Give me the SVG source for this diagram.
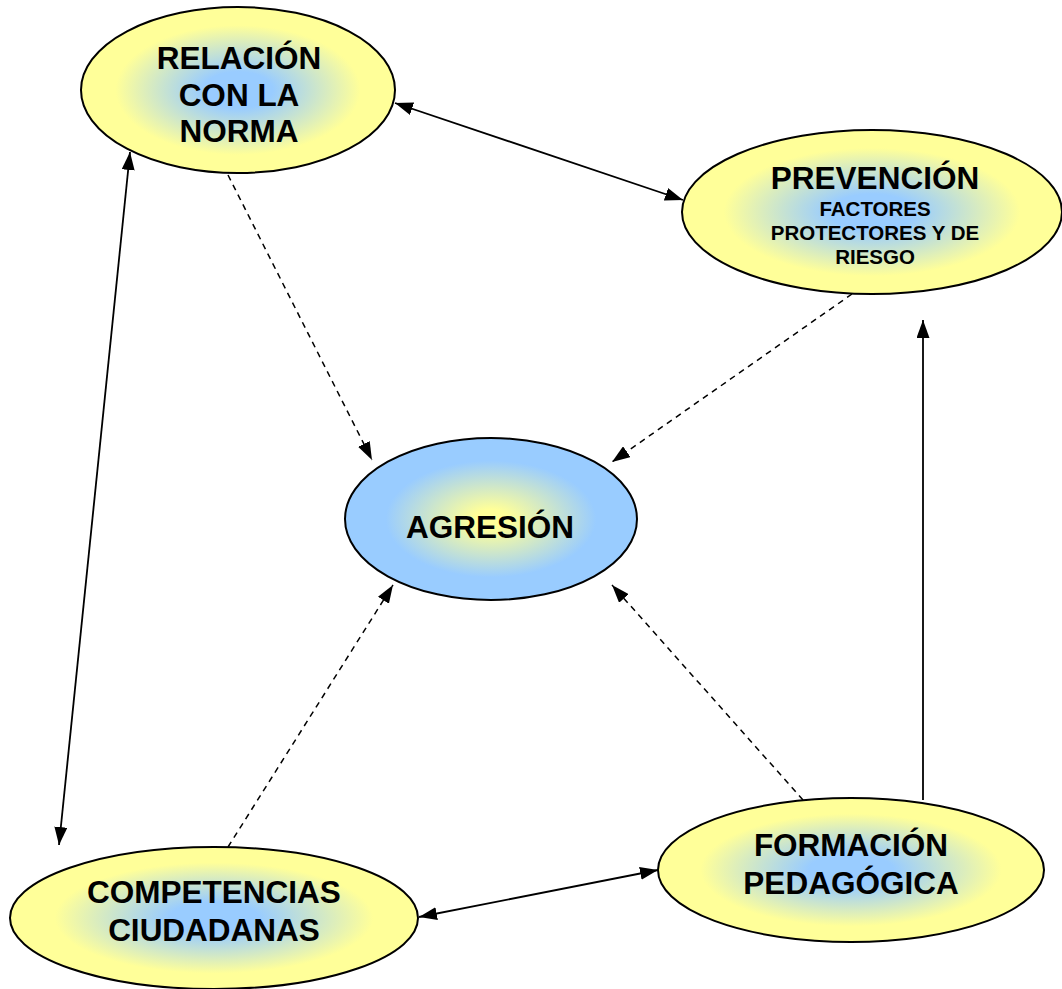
<svg xmlns="http://www.w3.org/2000/svg" width="1062" height="989" viewBox="0 0 1062 989">
<style>
.node ellipse{stroke:#000;stroke-width:2}
.t{font-family:"Liberation Sans",Arial,sans-serif;font-weight:bold;fill:#000;text-anchor:middle}
.big{font-size:31.5px}
.small{font-size:20.5px}
.c{fill:none;stroke:#000;stroke-width:1.8}
.d{stroke-width:1.5;stroke-dasharray:6 5}
</style>
<defs>
<radialGradient id="gy" cx="50%" cy="50%" r="50%">
<stop offset="0" stop-color="#99ccff"/>
<stop offset="0.22" stop-color="#99ccff"/>
<stop offset="0.78" stop-color="#ffff99"/>
<stop offset="1" stop-color="#ffff99"/>
</radialGradient>
<radialGradient id="gb" cx="50%" cy="50%" r="50%">
<stop offset="0" stop-color="#ffff99"/>
<stop offset="0.12" stop-color="#ffff99"/>
<stop offset="0.72" stop-color="#99ccff"/>
<stop offset="1" stop-color="#99ccff"/>
</radialGradient>
<marker id="ah" viewBox="0 0 18 13" refX="18" refY="6.5" markerWidth="18" markerHeight="13" markerUnits="userSpaceOnUse" orient="auto-start-reverse">
<path d="M0,0 L18,6.5 L0,13 Z" fill="#000"/>
</marker>
<clipPath id="pclip"><rect x="680" y="130" width="382" height="135"/></clipPath>
</defs>
<g id="connectors">
<line class="c" x1="395" y1="103" x2="683" y2="200" marker-start="url(#ah)" marker-end="url(#ah)"/>
<line class="c" x1="130" y1="152" x2="59" y2="845" marker-start="url(#ah)" marker-end="url(#ah)"/>
<line class="c" x1="419" y1="917" x2="658" y2="870" marker-start="url(#ah)" marker-end="url(#ah)"/>
<line class="c" x1="923" y1="800" x2="923" y2="320" marker-end="url(#ah)"/>
<line class="c d" x1="228" y1="175" x2="372" y2="460" marker-end="url(#ah)"/>
<line class="c d" x1="852" y1="294" x2="612" y2="462" marker-end="url(#ah)"/>
<line class="c d" x1="228" y1="847" x2="393" y2="585" marker-end="url(#ah)"/>
<line class="c d" x1="803" y1="800" x2="612" y2="585" marker-end="url(#ah)"/>
</g>
<g id="relacion" class="node">
<ellipse cx="238" cy="90" rx="157" ry="83" fill="url(#gy)"/>
<text class="t big" x="239" y="69">RELACIÓN</text>
<text class="t big" x="239" y="106">CON LA</text>
<text class="t big" x="239" y="142">NORMA</text>
</g>
<g id="prevencion" class="node">
<ellipse cx="872" cy="212" rx="190" ry="82" fill="url(#gy)"/>
<text class="t big" x="875" y="189">PREVENCIÓN</text>
<g clip-path="url(#pclip)">
<text class="t small" x="875" y="216">FACTORES</text>
<text class="t small" x="875" y="240">PROTECTORES Y DE</text>
<text class="t small" x="875" y="264">RIESGO</text>
</g>
</g>
<g id="agresion" class="node">
<ellipse cx="491" cy="519" rx="146" ry="81" fill="url(#gb)"/>
<text class="t big" x="490" y="538">AGRESIÓN</text>
</g>
<g id="competencias" class="node">
<ellipse cx="214" cy="918" rx="204" ry="71" fill="url(#gy)"/>
<text class="t big" x="214" y="903">COMPETENCIAS</text>
<text class="t big" x="214" y="941">CIUDADANAS</text>
</g>
<g id="formacion" class="node">
<ellipse cx="851" cy="870" rx="193" ry="72" fill="url(#gy)"/>
<text class="t big" x="851" y="856">FORMACIÓN</text>
<text class="t big" x="851" y="894">PEDAGÓGICA</text>
</g>
</svg>
